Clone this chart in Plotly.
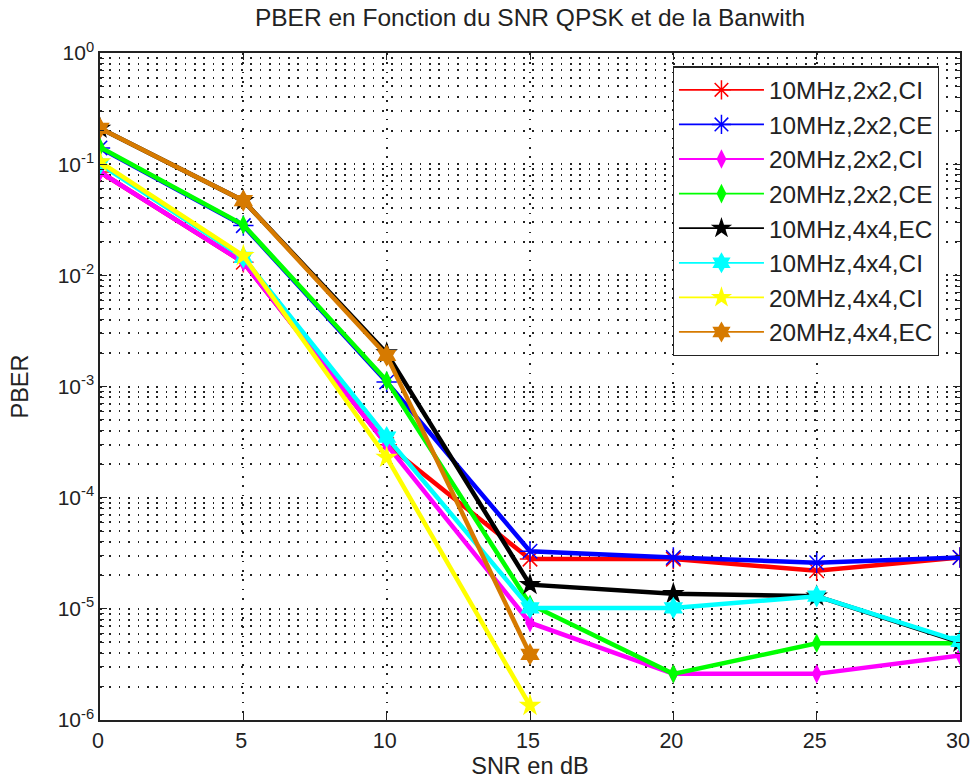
import plotly.graph_objects as go

# SNR values (dB)
snr = [0, 5, 10, 15, 20, 25, 30]

# PBER per configuration
ber_10_2x2_ci = [0.085, 0.0131, 3.0e-4, 2.8e-5, 2.8e-5, 2.2e-5, 2.9e-5]
ber_10_2x2_ce = [0.14, 0.028, 1.1e-3, 3.3e-5, 2.9e-5, 2.6e-5, 2.9e-5]
ber_20_2x2_ci = [0.085, 0.0131, 3.0e-4, 7.5e-6, 2.6e-6, 2.6e-6, 3.8e-6]
ber_20_2x2_ce = [0.142, 0.0285, 1.13e-3, 1.1e-5, 2.6e-6, 4.9e-6, 4.9e-6]
ber_10_4x4_ec = [0.21, 0.047, 2.0e-3, 1.65e-5, 1.37e-5, 1.3e-5, 5.0e-6]
ber_10_4x4_ci = [0.1, 0.0145, 3.5e-4, 1.02e-5, 1.02e-5, 1.3e-5, 5.1e-6]
ber_20_4x4_ci = [0.105, 0.015, 2.3e-4, 1.35e-6, None, None, None]
ber_20_4x4_ec = [0.21, 0.047, 1.9e-3, 3.9e-6, None, None, None]

names = ["10MHz,2x2,CI", "10MHz,2x2,CE", "20MHz,2x2,CI", "20MHz,2x2,CE",
         "10MHz,4x4,EC", "10MHz,4x4,CI", "20MHz,4x4,CI", "20MHz,4x4,EC"]
series = [ber_10_2x2_ci, ber_10_2x2_ce, ber_20_2x2_ci, ber_20_2x2_ce,
          ber_10_4x4_ec, ber_10_4x4_ci, ber_20_4x4_ci, ber_20_4x4_ec]
colors = ["#ff0000", "#0000ff", "#ff00ff", "#00ff00",
          "#000000", "#00ffff", "#ffff00", "#d67a00"]
symbols = ["asterisk-open", "asterisk-open", "diamond-tall", "diamond-tall",
           "star", "hexagram", "star", "hexagram"]
sizes = [17, 17, 14, 14, 17, 17, 17, 17]


def make_marker(sym, size, color):
    if sym == "asterisk-open":
        return dict(symbol=sym, size=size, color=color,
                    line=dict(color=color, width=1.5))
    return dict(symbol=sym, size=size, color=color, line=dict(color=color, width=0))


fig = go.Figure()
for name, y, c, s, sz in zip(names, series, colors, symbols, sizes):
    fig.add_trace(go.Scatter(
        x=snr, y=y, name=name, mode="lines+markers", legendgroup=name,
        showlegend=False, line=dict(color=c, width=4.5),
        marker=make_marker(s, sz, c), connectgaps=False,
    ))
# legend keys use a thinner line than the plotted curves
for name, c, s, sz in zip(names, colors, symbols, sizes):
    fig.add_trace(go.Scatter(
        x=[None], y=[None], name=name, mode="lines+markers", legendgroup=name,
        line=dict(color=c, width=1.8), marker=make_marker(s, sz, c),
    ))

font_family = "Liberation Sans, Arial, sans-serif"
text_color = "#222222"
dot = "1.6px,7.8px"

decades = list(range(-6, 1))
ytickvals = [10.0 ** d for d in decades]
yticktext = ["10<sup>%d</sup>" % d for d in decades]
yminor = [m * 10.0 ** d for d in range(-6, 0) for m in range(2, 10)]

fig.update_layout(
    width=971, height=783, autosize=False,
    margin=dict(l=100, r=11, t=53, b=63),
    paper_bgcolor="white", plot_bgcolor="white",
    font=dict(family=font_family, size=21.5, color=text_color),
    title=dict(text="PBER en Fonction du SNR QPSK et de la Banwith",
               x=0.5, xref="paper", xanchor="center",
               y=1, yref="container", yanchor="top", pad=dict(t=9),
               font=dict(size=24.5, color=text_color)),
    showlegend=True,
    legend=dict(x=0.666, y=0.98, xanchor="left", yanchor="top",
                bgcolor="white", bordercolor=text_color, borderwidth=1.2,
                font=dict(size=24.3, color=text_color), itemwidth=85,
                tracegroupgap=0),
)

fig.update_xaxes(
    range=[0, 30], tickvals=snr, automargin=False,
    ticklabeloverflow="allow", ticklabelshift=-2,
    ticks="inside", ticklen=7, tickcolor=text_color, tickwidth=1.2,
    showline=True, linecolor=text_color, linewidth=1.5, mirror="allticks",
    showgrid=True, gridcolor=text_color, gridwidth=1.5, griddash=dot,
    zeroline=False, tickfont=dict(size=21.5),
    title=dict(text="SNR en dB", standoff=5, font=dict(size=23.5)),
)

fig.update_yaxes(
    type="log", range=[-6, 0], automargin=False,
    ticklabeloverflow="allow",
    tickvals=ytickvals, ticktext=yticktext,
    ticks="inside", ticklen=7, tickcolor=text_color, tickwidth=1.2,
    showline=True, linecolor=text_color, linewidth=1.5, mirror="allticks",
    showgrid=True, gridcolor=text_color, gridwidth=1.5, griddash=dot,
    zeroline=False, tickfont=dict(size=21),
    minor=dict(tickvals=yminor, ticks="inside", ticklen=4,
               tickcolor=text_color, showgrid=True, gridcolor=text_color,
               gridwidth=1.5, griddash=dot),
    title=dict(text="PBER", standoff=22, font=dict(size=23.5)),
)

fig.write_html("out.html")
